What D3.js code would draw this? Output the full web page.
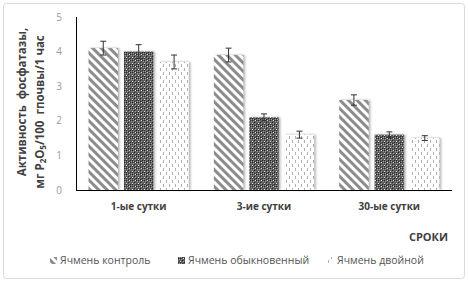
<!DOCTYPE html>
<html><head><meta charset="utf-8">
<script src="https://cdn.jsdelivr.net/npm/d3@7/dist/d3.min.js"></script>
<style>body{margin:0;background:#fff}svg{display:block}</style>
</head><body><div id="chart"></div>
<script>
const categories = ["1-ые сутки", "3-ие сутки", "30-ые сутки"];
const seriesNames = ["Ячмень контроль", "Ячмень обыкновенный", "Ячмень двойной"];
const control = [4.1, 3.9, 2.6];
const ordinary = [4.0, 2.1, 1.6];
const double_ = [3.7, 1.6, 1.5];
const controlErr = [0.2, 0.2, 0.15];
const ordinaryErr = [0.2, 0.1, 0.08];
const doubleErr = [0.2, 0.1, 0.07];
const yTicks = [0, 1, 2, 3, 4, 5];

const series = [
  {name: seriesNames[0], values: control, errs: controlErr, pat: "p1"},
  {name: seriesNames[1], values: ordinary, errs: ordinaryErr, pat: "p2"},
  {name: seriesNames[2], values: double_, errs: doubleErr, pat: "p3"}
];

const W = 468, H = 283;
const svg = d3.select("#chart").append("svg").attr("width", W).attr("height", H);
const defs = svg.append("defs");

// Pattern 1: diagonal stripes
const p1 = defs.append("pattern").attr("id", "p1").attr("patternUnits", "userSpaceOnUse")
  .attr("width", 6).attr("height", 6).attr("patternTransform", "rotate(-45)");
p1.append("rect").attr("width", 6).attr("height", 6).attr("fill", "#fff");
p1.append("rect").attr("width", 3).attr("height", 6).attr("fill", "#8c8c8c");

// Pattern 2: dark checker with light specks
const p2 = defs.append("pattern").attr("id", "p2").attr("patternUnits", "userSpaceOnUse")
  .attr("width", 6).attr("height", 6);
p2.append("rect").attr("width", 6).attr("height", 6).attr("fill", "#5c5c5c");
[[0,0],[2,2],[4,0],[0,4],[4,4],[2,5]].forEach(([x,y]) => p2.append("rect").attr("x", x).attr("y", y).attr("width", 1).attr("height", 1).attr("fill", "#2a2a2a"));
[[1,1],[3,3],[5,1],[1,5],[5,5]].forEach(([x,y]) => p2.append("rect").attr("x", x).attr("y", y).attr("width", 1).attr("height", 1).attr("fill", "#9a9a9a"));
[[3,0],[0,3]].forEach(([x,y]) => p2.append("rect").attr("x", x).attr("y", y).attr("width", 1).attr("height", 1).attr("fill", "#e0e0e0"));

// Pattern 3: light dotted dashes
const p3 = defs.append("pattern").attr("id", "p3").attr("patternUnits", "userSpaceOnUse")
  .attr("width", 6).attr("height", 8);
p3.append("rect").attr("width", 6).attr("height", 8).attr("fill", "#fff");
p3.append("rect").attr("x", 1).attr("y", 0).attr("width", 1).attr("height", 3).attr("fill", "#b0b0b0");
p3.append("rect").attr("x", 4).attr("y", 4).attr("width", 1).attr("height", 3).attr("fill", "#b0b0b0");

const f = defs.append("filter").attr("id", "sh").attr("x", "-30%").attr("y", "-10%").attr("width", "160%").attr("height", "120%");
f.append("feDropShadow").attr("dx", 1.5).attr("dy", 0).attr("stdDeviation", 1.3)
  .attr("flood-color", "#888").attr("flood-opacity", 0.7);

// chart border
svg.append("rect").attr("x", 3.5).attr("y", 3.5).attr("width", 461).attr("height", 275)
  .attr("rx", 3).attr("fill", "#fff").attr("stroke", "#d9d9d9");

const m = {left: 76, right: 452, top: 17, bottom: 190};
const x0 = d3.scaleBand().domain(categories).range([m.left, m.right]).paddingInner(0.2).paddingOuter(0.1);
const x1 = d3.scaleBand().domain(seriesNames).range([0, x0.bandwidth()]).paddingInner(0.17);
const y = d3.scaleLinear().domain([0, 5]).range([m.bottom, m.top]);

// y tick labels
svg.append("g").selectAll("text").data(yTicks).join("text")
  .attr("x", 62).attr("y", d => y(d)).attr("dy", "0.35em").attr("text-anchor", "end")
  .attr("font-family", "Open Sans, sans-serif").attr("font-size", 10).attr("fill", "#9a9a9a")
  .text(d => d);

// bars
const g = svg.append("g");
series.forEach(s => {
  g.append("g").selectAll("rect").data(categories).join("rect")
    .attr("x", (c) => x0(c) + x1(s.name))
    .attr("y", (c, i) => y(s.values[i]))
    .attr("width", x1.bandwidth())
    .attr("height", (c, i) => y(0) - y(s.values[i]))
    .attr("fill", `url(#${s.pat})`)
    .attr("filter", "url(#sh)");
});
// error bars
series.forEach(s => {
  categories.forEach((c, i) => {
    const cx = x0(c) + x1(s.name) + x1.bandwidth() / 2;
    const eg = g.append("g").attr("stroke", "#333").attr("stroke-width", 1);
    eg.append("line").attr("x1", cx).attr("x2", cx).attr("y1", y(s.values[i] - s.errs[i])).attr("y2", y(s.values[i] + s.errs[i]));
    eg.append("line").attr("x1", cx - 3).attr("x2", cx + 3).attr("y1", y(s.values[i] + s.errs[i])).attr("y2", y(s.values[i] + s.errs[i]));
    eg.append("line").attr("x1", cx - 3).attr("x2", cx + 3).attr("y1", y(s.values[i] - s.errs[i])).attr("y2", y(s.values[i] - s.errs[i]));
  });
});

// axes lines
svg.append("line").attr("x1", m.left + 0.5).attr("x2", m.left + 0.5).attr("y1", m.top).attr("y2", m.bottom).attr("stroke", "#000");
svg.append("line").attr("x1", m.left).attr("x2", m.right).attr("y1", m.bottom + 0.5).attr("y2", m.bottom + 0.5).attr("stroke", "#000");

// x labels
svg.append("g").selectAll("text").data(categories).join("text")
  .attr("x", c => x0(c) + x0.bandwidth() / 2).attr("y", 210).attr("text-anchor", "middle")
  .attr("font-family", "Open Sans, sans-serif").attr("font-size", 10).attr("font-weight", "bold").attr("fill", "#404040")
  .text(c => c);

svg.append("text").attr("x", 448).attr("y", 241).attr("text-anchor", "end")
  .attr("font-family", "Open Sans, sans-serif").attr("font-size", 11).attr("font-weight", "bold").attr("fill", "#404040")
  .text("СРОКИ");

// y title
const yt = svg.append("text").attr("transform", "translate(0,0) rotate(-90)").attr("text-anchor", "middle")
  .style("white-space", "pre")
  .attr("font-family", "Open Sans, sans-serif").attr("font-size", 11.5).attr("font-weight", "bold").attr("fill", "#404040");
yt.append("tspan").attr("x", -102).attr("y", 26).text("Активность  фосфатазы,");
const t2 = yt.append("tspan").attr("x", -112).attr("y", 44);
t2.append("tspan").text("мг P");
t2.append("tspan").attr("font-size", 8).attr("dy", 2).text("2");
t2.append("tspan").attr("dy", -2).text("O");
t2.append("tspan").attr("font-size", 8).attr("dy", 2).text("5");
t2.append("tspan").attr("dy", -2).text("/100  гпочвы/1 час");

// legend
const legX = [50, 178, 327];
const lg = svg.append("g");
series.forEach((s, i) => {
  lg.append("rect").attr("x", legX[i]).attr("y", 257).attr("width", 7).attr("height", 7).attr("fill", `url(#${s.pat})`);
  lg.append("text").attr("x", legX[i] + 10).attr("y", 264)
    .attr("font-family", "Open Sans, sans-serif").attr("font-size", 10.5).attr("fill", "#555")
    .text(s.name);
});
</script></body></html>
